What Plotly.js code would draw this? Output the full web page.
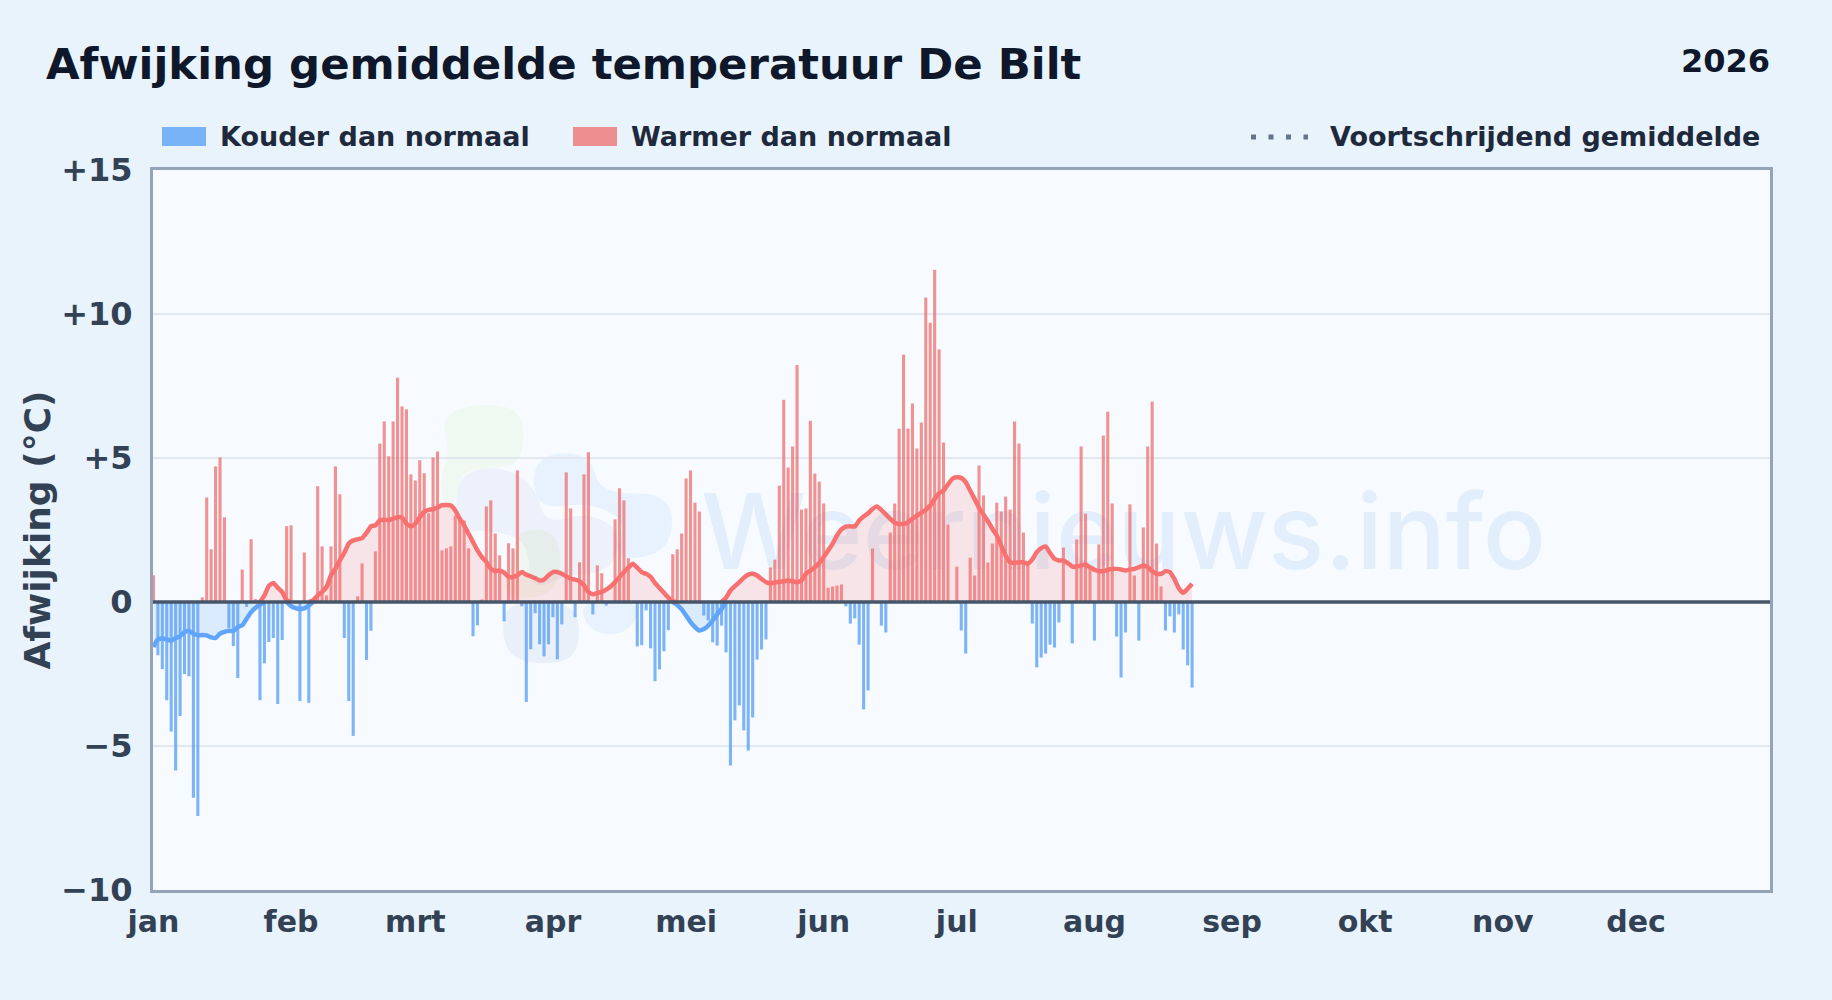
<!DOCTYPE html>
<html lang="nl">
<head>
<meta charset="utf-8">
<title>Afwijking gemiddelde temperatuur De Bilt</title>
<script src="https://cdn.plot.ly/plotly-3.0.1.min.js"></script>
<style>html,body{margin:0;padding:0;background:#e8f3fc}#chart{width:1832px;height:1000px}</style>
</head>
<body>
<div id="chart"></div>
<script>
const monthLabels = ['jan','feb','mrt','apr','mei','jun','jul','aug','sep','okt','nov','dec'];
const monthStartDays = [0,31,59,90,120,151,181,212,243,273,304,334];
const yTickValues = [-10,-5,0,5,10,15];
const yTickLabels = ['\u221210','\u22125','0','+5','+10','+15'];

const dailyAnomaly = [
 0.93,-1.85,-2.33,-3.41,-4.5,-5.85,-3.96,-2.5,-2.58,-6.8,
 -7.43,0.16,3.63,1.83,4.71,5.02,2.94,-0.9,-1.53,-2.64,
 1.13,-0.17,2.18,0.1,-3.41,-2.13,-1.39,-1.25,-3.54,-1.32,
 2.63,2.66,0,-3.44,1.72,-3.5,0,4.02,1.93,0.23,
 1.93,4.71,3.74,-1.25,-3.44,-4.65,0.2,1.34,-2.01,-1.0,
 1.76,5.5,6.27,5.06,6.27,7.79,6.79,6.69,4.43,4.22,
 4.92,4.47,3.08,5.02,5.23,1.79,1.86,1.93,3.0,2.95,
 2.83,1.86,-1.19,-0.81,0.09,3.32,3.53,2.38,1.62,-0.67,
 2.04,1.86,4.57,-0.15,-3.47,-1.64,-0.39,-1.47,-1.89,-1.47,
 -0.53,-1.99,-0.78,4.5,3.25,-0.53,1.38,4.43,5.2,-0.43,
 1.27,1.0,-0.12,0,2.87,3.95,3.53,1.52,0,-1.54,
 -1.5,-0.29,-1.61,-2.75,-2.34,-1.71,-0.98,1.66,1.83,2.38,
 4.29,4.57,3.45,3.14,-0.47,-0.64,-1.4,-1.51,-0.82,-1.75,
 -5.68,-4.11,-3.59,-4.46,-5.16,-4.01,-2.0,-1.65,-1.3,1.2,
 1.47,4.04,7.02,4.67,5.4,8.23,3.21,3.25,6.29,4.46,
 4.18,3.42,0.5,0.54,0.57,0.61,-0.15,-0.75,-0.57,-1.48,
 -3.73,-3.07,1.86,0,-0.82,-1.06,2.41,3.42,6.02,8.59,
 6.02,6.89,5.33,6.23,10.57,9.7,11.54,8.77,5.54,2.69,
 0,1.23,-0.99,-1.79,1.54,0.92,4.74,3.7,1.37,2.03,
 3.45,3.14,3.66,3.21,6.27,5.5,2.41,1.33,-0.75,-2.27,
 -1.93,-1.79,-1.48,-1.58,-0.71,1.89,0,-1.44,2.17,5.4,
 3.07,1.23,-1.34,2.0,5.78,6.61,3.42,-1.2,-2.62,-1.06,
 3.39,0.92,-1.34,2.59,5.4,6.96,2.03,0.54,-0.99,-0.5,
 -1.06,-0.43,-1.65,-2.2,-2.97
];
const movingAverage = [
 -1.56,-1.3,-1.27,-1.3,-1.35,-1.25,-1.19,-1.04,-1.01,-1.1,
 -1.15,-1.15,-1.16,-1.23,-1.25,-1.1,-1.04,-1.0,-1.01,-0.87,
 -0.81,-0.58,-0.35,-0.2,-0.09,0.23,0.56,0.66,0.5,0.35,
 0.06,-0.14,-0.21,-0.24,-0.22,-0.12,0.06,0.23,0.35,0.52,
 0.93,1.16,1.45,1.71,2.03,2.14,2.18,2.22,2.4,2.63,
 2.66,2.84,2.86,2.84,2.89,2.95,2.93,2.72,2.63,2.72,
 2.95,3.13,3.2,3.22,3.28,3.36,3.37,3.35,3.18,2.89,
 2.66,2.37,2.08,1.79,1.56,1.39,1.16,1.08,1.09,1.02,
 0.87,0.87,0.93,1.04,0.95,0.89,0.83,0.75,0.78,0.93,
 1.04,1.04,0.98,0.89,0.81,0.78,0.72,0.58,0.35,0.27,
 0.31,0.35,0.43,0.54,0.69,0.87,1.04,1.19,1.33,1.19,
 1.04,0.98,0.87,0.66,0.49,0.32,0.15,0.02,-0.1,-0.25,
 -0.47,-0.7,-0.87,-0.99,-0.94,-0.82,-0.64,-0.43,-0.24,0.15,
 0.4,0.55,0.69,0.84,0.95,0.98,0.92,0.8,0.69,0.65,
 0.68,0.7,0.72,0.75,0.72,0.69,0.75,0.98,1.09,1.21,
 1.35,1.56,1.79,2.02,2.31,2.52,2.62,2.63,2.62,2.83,
 2.97,3.08,3.23,3.32,3.2,3.04,2.89,2.75,2.71,2.71,
 2.77,2.89,3.0,3.1,3.2,3.35,3.58,3.78,3.87,4.08,
 4.28,4.33,4.31,4.16,3.87,3.58,3.27,3.04,2.81,2.54,
 2.31,1.96,1.61,1.38,1.36,1.38,1.38,1.33,1.48,1.73,
 1.87,1.93,1.7,1.5,1.44,1.44,1.35,1.23,1.23,1.27,
 1.3,1.21,1.12,1.07,1.07,1.12,1.15,1.15,1.13,1.09,
 1.13,1.15,1.21,1.27,1.21,1.07,0.98,0.98,1.07,1.04,
 0.8,0.48,0.32,0.46,0.63
];

const days = dailyAnomaly.map((_, i) => i);
const keep = test => dailyAnomaly.map(v => test(v) ? v : null);
// A line segment of one sign is closed at the zero line on the day it changes sign.
const signPart = test => movingAverage.map((v, i) => {
  if (test(v)) return v;
  const a = movingAverage[i - 1], b = movingAverage[i + 1];
  return (a !== undefined && test(a)) || (b !== undefined && test(b)) ? 0 : null;
});

// Page geometry (decoration only): the plot frame in page pixels.
const L = 153, R = 1770, T = 170, B = 890;
const px = x => (x - L) / (R - L);
const py = y => (B - y) / (B - T);
const blob = (pts, fill) => {
  const n = pts.length, mid = (p, q) => [(p[0] + q[0]) / 2, (p[1] + q[1]) / 2];
  const f = p => px(p[0]).toFixed(5) + ',' + py(p[1]).toFixed(5);
  let d = 'M' + f(mid(pts[n - 1], pts[0]));
  pts.forEach((p, i) => { d += ' Q' + f(p) + ' ' + f(mid(p, pts[(i + 1) % n])); });
  return {type:'path', xref:'paper', yref:'paper', layer:'below', path:d + ' Z', fillcolor:fill, line:{width:0}};
};
const text = (x, y, s, size, color, anchor) => ({
  x:px(x), y:py(y), xref:'paper', yref:'paper', text:s, showarrow:false,
  xanchor:anchor || 'left', yanchor:'middle', font:{family:'DejaVu Sans', size, color, weight:700}
});
const coldBar = 'rgba(90,160,245,0.78)', warmBar = 'rgba(239,100,100,0.7)';

const traces = [
  {type:'bar', name:'Kouder dan normaal', x:days, y:keep(v => v < 0), width:0.7, marker:{color:coldBar, line:{width:0}}, hoverinfo:'x+y'},
  {type:'bar', name:'Warmer dan normaal', x:days, y:keep(v => v >= 0), width:0.7, marker:{color:warmBar, line:{width:0}}, hoverinfo:'x+y'},
  {type:'scatter', mode:'lines', name:'Voortschrijdend gemiddelde (koud)', x:days, y:signPart(v => v < 0), fill:'tozeroy', fillcolor:'rgba(96,165,250,0.18)', line:{color:'#60a5fa', width:4.5, shape:'spline', smoothing:0.5}, connectgaps:false},
  {type:'scatter', mode:'lines', name:'Voortschrijdend gemiddelde (warm)', x:days, y:signPart(v => v >= 0), fill:'tozeroy', fillcolor:'rgba(248,113,113,0.16)', line:{color:'#f87171', width:4.5, shape:'spline', smoothing:0.5}, connectgaps:false}
];

const layout = {
  width:1832, height:1000, autosize:false,
  paper_bgcolor:'#e8f3fc', plot_bgcolor:'#f7fbff',
  margin:{l:L, r:1832 - R, t:T, b:1000 - B, pad:0},
  barmode:'overlay', showlegend:false, hovermode:'closest',
  font:{family:'DejaVu Sans'},
  title:{text:'<b>Afwijking gemiddelde temperatuur De Bilt</b>', x:46 / 1832, xanchor:'left', xref:'container', y:1 - 64 / 1000, yanchor:'middle', font:{family:'DejaVu Sans', size:43.4, color:'#0f172a'}},
  xaxis:{
    range:[-0.1, 364.2], tickmode:'array', tickvals:monthStartDays, ticktext:monthLabels,
    showgrid:false, zeroline:false, showline:true, mirror:true, linecolor:'#94a3b8', linewidth:3, ticks:'', ticklabelstandoff:3,
    tickfont:{family:'DejaVu Sans', size:30, color:'#334155', weight:700}
  },
  yaxis:{
    range:[-10, 15], tickmode:'array', tickvals:yTickValues, ticktext:yTickLabels,
    showgrid:true, gridcolor:'#e2e8f0', gridwidth:2, zeroline:false, showline:true, mirror:true, linecolor:'#94a3b8', linewidth:3, ticks:'', ticklabelstandoff:11,
    tickfont:{family:'DejaVu Sans', size:32, color:'#334155', weight:700},
    title:{text:'<b>Afwijking (\u00b0C)</b>', standoff:0, font:{family:'DejaVu Sans', size:36, color:'#334155'}}
  },
  shapes:[
    // watermark logo
    blob([[440,415],[485,402],[525,412],[522,465],[488,468],[462,472],[456,495],[450,520],[438,485],[450,450]], 'rgba(190,225,130,0.10)'),
    blob([[455,475],[500,465],[535,485],[545,525],[585,512],[622,530],[612,572],[565,575],[530,592],[528,540],[490,530],[458,532]], 'rgba(30,64,175,0.05)'),
    blob([[533,455],[590,452],[600,495],[672,492],[672,552],[612,562],[628,522],[590,502],[535,510]], 'rgba(96,165,250,0.10)'),
    blob([[515,530],[560,530],[560,590],[525,600],[500,590],[515,560]], 'rgba(190,225,130,0.12)'),
    blob([[503,600],[578,600],[580,660],[530,665],[503,650]], 'rgba(30,64,175,0.06)'),
    blob([[578,600],[642,600],[630,634],[590,634]], 'rgba(96,165,250,0.10)'),
    // zero line on top of the bars
    {type:'line', xref:'paper', yref:'y', x0:0, x1:1, y0:0, y1:0, layer:'above', line:{color:'#475569', width:3.5}},
    // legend swatches and dotted sample
    {type:'rect', xref:'paper', yref:'paper', x0:px(162), x1:px(206), y0:py(127), y1:py(146), fillcolor:coldBar, line:{width:0}},
    {type:'rect', xref:'paper', yref:'paper', x0:px(573), x1:px(617), y0:py(127), y1:py(146), fillcolor:warmBar, line:{width:0}},
    {type:'line', xref:'paper', yref:'paper', x0:px(1251), x1:px(1308), y0:py(137), y1:py(137), line:{color:'#64748b', width:5, dash:'5px,12.5px'}}
  ],
  annotations:[
    {x:px(699), y:py(530), xref:'paper', yref:'paper', text:'Weernieuws.info', showarrow:false, xanchor:'left', yanchor:'middle', font:{family:'Inter', size:105, weight:500, color:'rgba(147,190,235,0.2)'}},
    text(1772, 61, '2026', 32, '#0f172a', 'right'),
    text(217.5, 137, 'Kouder dan normaal', 27, '#1e293b'),
    text(629, 137, 'Warmer dan normaal', 27, '#1e293b'),
    text(1762, 137, 'Voortschrijdend gemiddelde', 27, '#1e293b', 'right')
  ]
};

Plotly.newPlot('chart', traces, layout, {displayModeBar:false, responsive:false}).then(() => {
  // The watermark lies behind the bars and lines: move its text under the traces.
  const mark = document.querySelector('.infolayer .annotation[data-index="0"]');
  const below = document.querySelector('.layer-below .shapelayer');
  if (mark && below) below.appendChild(mark);
});
</script>
</body>
</html>
